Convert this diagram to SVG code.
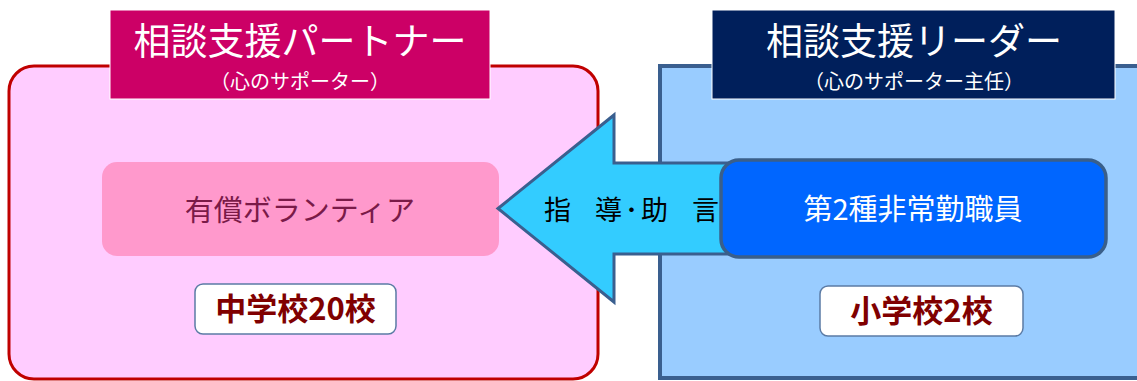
<svg xmlns="http://www.w3.org/2000/svg" width="1137" height="381" viewBox="0 0 1137 381">
<style>
  text { font-family: "Noto Sans CJK JP", "Noto Sans", sans-serif; }
  .title { fill: #ffffff; font-size: 37px; text-anchor: middle; }
  .sub { fill: #ffffff; font-size: 20px; text-anchor: middle; }
  .school { fill: #800000; font-size: 31px; font-weight: bold; text-anchor: middle; }
  .wbox { fill: #ffffff; stroke: #5b7ba5; stroke-width: 1.5; }
</style>
<rect width="1137" height="381" fill="#ffffff"/>
<g id="partner-panel">
  <rect x="9" y="66" width="589" height="313" rx="25" ry="25" fill="#ffccff" stroke="#c00000" stroke-width="3"/>
</g>
<g id="leader-panel">
  <rect x="660" y="66" width="490" height="312" fill="#99ccff" stroke="#3a5f8f" stroke-width="4"/>
</g>
<g id="partner-title">
  <rect x="110" y="10" width="380" height="89" fill="#cc0066" stroke="#ffffff" stroke-width="1"/>
  <text class="title" x="300" y="55">相談支援パートナー</text>
  <text class="sub" x="300" y="89">（心のサポーター）</text>
</g>
<g id="leader-title">
  <rect x="712" y="10" width="403" height="89" fill="#001f5b" stroke="#ffffff" stroke-width="1"/>
  <text class="title" x="914" y="55">相談支援リーダー</text>
  <text class="sub" x="914" y="89">（心のサポーター主任）</text>
</g>
<g id="volunteer">
  <rect x="102" y="162" width="397" height="94" rx="15" ry="15" fill="#ff99cc"/>
  <text x="300" y="221" font-size="29" fill="#7a1a48" text-anchor="middle">有償ボランティア</text>
</g>
<g id="connectors">
  <polygon points="498,208.5 614,115 614,163 740,163 740,254 614,254 614,302" fill="#33ccff" stroke="#3a5f8f" stroke-width="3" stroke-linejoin="miter"/>
  <text x="544" y="220" font-size="27" fill="#000000" letter-spacing="2.75" word-spacing="12.5" xml:space="preserve">指 導･助 言</text>
</g>
<g id="staff">
  <rect x="721" y="160" width="385" height="97" rx="18" ry="18" fill="#0066ff" stroke="#3a5f8a" stroke-width="3.5"/>
  <text x="913" y="220" font-size="29" fill="#ffffff" text-anchor="middle">第2種非常勤職員</text>
</g>
<g id="junior-high">
  <rect class="wbox" x="195" y="284" width="201" height="50" rx="8" ry="8"/>
  <text class="school" x="295.5" y="320">中学校20校</text>
</g>
<g id="elementary">
  <rect class="wbox" x="820" y="286" width="203" height="50" rx="8" ry="8"/>
  <text class="school" x="921.5" y="322">小学校2校</text>
</g>
</svg>
